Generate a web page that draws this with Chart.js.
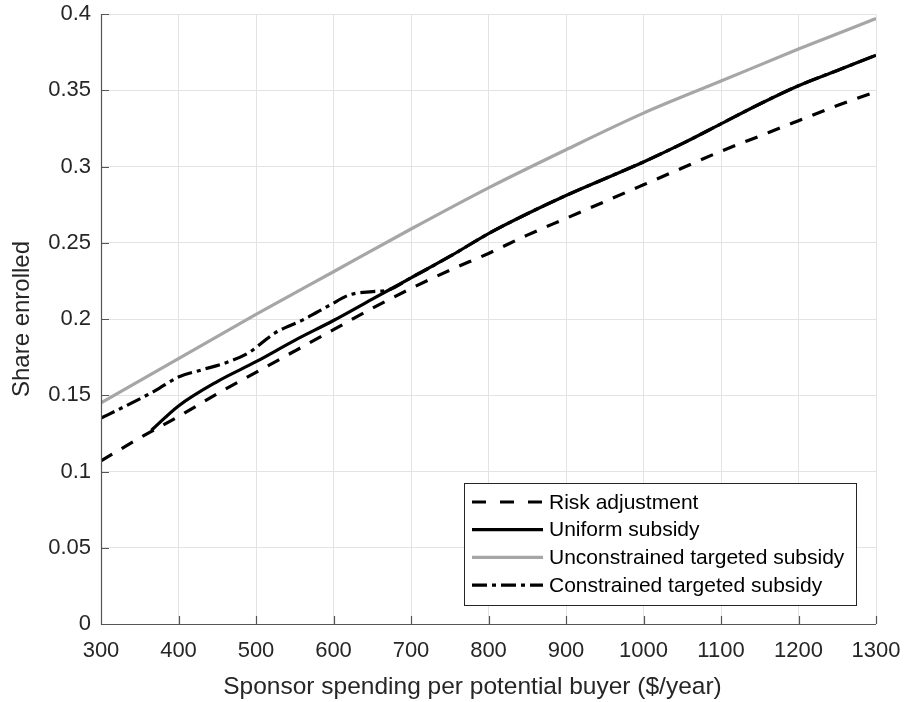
<!DOCTYPE html>
<html>
<head>
<meta charset="utf-8">
<script src="https://cdn.jsdelivr.net/npm/chart.js@4"></script>
<style>
  body { margin: 0; background: #fff; }
  #wrap { width: 905px; height: 702px; }
</style>
</head>
<body>
<div id="wrap"><canvas id="enrollChart" width="905" height="702"></canvas></div>
<script>
// spending levels ($/year) and share enrolled for each policy
const riskX = [300, 350, 400, 450, 500, 550, 600, 650, 700, 750, 800, 850, 900, 950, 1000, 1050, 1100, 1150, 1200, 1250, 1300];
const riskY = [0.107, 0.122, 0.136, 0.151, 0.165, 0.179, 0.193, 0.207, 0.220, 0.232, 0.243, 0.255, 0.266, 0.277, 0.288, 0.299, 0.310, 0.320, 0.330, 0.340, 0.349];

const uniformX = [365, 400, 450, 500, 550, 600, 650, 700, 750, 800, 850, 900, 950, 1000, 1050, 1100, 1150, 1200, 1250, 1300];
const uniformY = [0.127, 0.143, 0.159, 0.172, 0.186, 0.199, 0.213, 0.227, 0.241, 0.256, 0.269, 0.281, 0.292, 0.303, 0.315, 0.328, 0.341, 0.353, 0.363, 0.373];

const unconX = [300, 400, 500, 600, 700, 800, 900, 1000, 1100, 1200, 1300];
const unconY = [0.145, 0.174, 0.203, 0.231, 0.259, 0.286, 0.311, 0.335, 0.356, 0.377, 0.397];

const conX = [300, 330, 370, 400, 430, 465, 490, 525, 560, 595, 620, 650, 670, 700, 750, 800, 850, 900, 950, 1000, 1050, 1100, 1150, 1200, 1250, 1300];
const conY = [0.135, 0.1425, 0.153, 0.162, 0.1666, 0.172, 0.1777, 0.191, 0.1993, 0.209, 0.2157, 0.218, 0.219, 0.227, 0.241, 0.256, 0.269, 0.281, 0.292, 0.303, 0.315, 0.328, 0.341, 0.353, 0.363, 0.373];

const xTicks = [300, 400, 500, 600, 700, 800, 900, 1000, 1100, 1200, 1300];
const yTicks = [0, 0.05, 0.1, 0.15, 0.2, 0.25, 0.3, 0.35, 0.4];

const xTitle = 'Sponsor spending per potential buyer ($/year)';
const FONT = "'Liberation Sans', Arial, sans-serif";

function pairs(xs, ys) {
    return xs.map((x, i) => ({ x: x, y: ys[i] }));
}

// MATLAB-like axis lines with inward ticks, plus the x label
const axesLines = {
    id: 'axesLines',
    afterDatasetsDraw(chart) {
        const { ctx, chartArea: a, scales } = chart;
        ctx.save();
        ctx.strokeStyle = '#555';
        ctx.lineWidth = 1.2;
        ctx.beginPath();
        ctx.moveTo(a.left + 0.5, a.top);
        ctx.lineTo(a.left + 0.5, a.bottom + 0.5);
        ctx.lineTo(a.right, a.bottom + 0.5);
        xTicks.forEach(v => {
            const px = Math.round(scales.x.getPixelForValue(v)) + 0.5;
            ctx.moveTo(px, a.bottom);
            ctx.lineTo(px, a.bottom - 8);
        });
        yTicks.forEach(v => {
            const py = Math.round(scales.y.getPixelForValue(v)) + 0.5;
            ctx.moveTo(a.left, py);
            ctx.lineTo(a.left + 8, py);
        });
        ctx.stroke();

        ctx.fillStyle = '#262626';
        ctx.font = '24.5px ' + FONT;
        ctx.textAlign = 'center';
        ctx.textBaseline = 'middle';
        ctx.fillText(xTitle, 472.5, a.bottom + 63);
        ctx.restore();
    }
};

// legend box in the lower right corner of the plot
const boxLegend = {
    id: 'boxLegend',
    afterDraw(chart) {
        const { ctx, chartArea: a } = chart;
        const w = 392, h = 122;
        const x0 = a.right - 20 - w, y0 = a.bottom - 19 - h;
        ctx.save();
        ctx.fillStyle = '#fff';
        ctx.fillRect(x0, y0, w, h);
        ctx.strokeStyle = '#262626';
        ctx.lineWidth = 1;
        ctx.strokeRect(Math.round(x0) + 0.5, Math.round(y0) + 0.5, w, h);
        ctx.font = '21px ' + FONT;
        ctx.textBaseline = 'middle';
        chart.data.datasets.forEach((ds, i) => {
            const y = y0 + 19 + i * 27.7;
            ctx.beginPath();
            ctx.strokeStyle = ds.borderColor;
            ctx.lineWidth = ds.borderWidth;
            ctx.setLineDash(ds.legendDash || []);
            ctx.moveTo(x0 + 8, y);
            ctx.lineTo(x0 + 79, y);
            ctx.stroke();
            ctx.setLineDash([]);
            ctx.fillStyle = '#000';
            ctx.fillText(ds.label, x0 + 85, y + 1);
        });
        ctx.restore();
    }
};

const data = {
    datasets: [{
        label: 'Risk adjustment',
        data: pairs(riskX, riskY),
        borderColor: '#000',
        borderWidth: 3.2,
        borderDash: [13, 11],
        legendDash: [14, 14],
        order: 4
    }, {
        label: 'Uniform subsidy',
        data: pairs(uniformX, uniformY),
        borderColor: '#000',
        borderWidth: 3.2,
        order: 3
    }, {
        label: 'Unconstrained targeted subsidy',
        data: pairs(unconX, unconY),
        borderColor: '#a6a6a6',
        borderWidth: 3.2,
        order: 2
    }, {
        label: 'Constrained targeted subsidy',
        data: pairs(conX, conY),
        borderColor: '#000',
        borderWidth: 3.2,
        borderDash: [15, 5, 4, 5],
        legendDash: [15, 5, 4, 5],
        order: 1
    }]
};

const config = {
    type: 'line',
    data: data,
    options: {
        responsive: false,
        animation: false,
        layout: { padding: { left: 0, top: 14, right: 29, bottom: 0 } },
        elements: {
            point: { radius: 0 },
            line: { tension: 0.3, cubicInterpolationMode: 'monotone', borderCapStyle: 'butt', fill: false }
        },
        plugins: {
            legend: { display: false },
            tooltip: { enabled: false }
        },
        scales: {
            x: {
                type: 'linear',
                min: 300,
                max: 1300,
                afterFit: s => { s.height = 78; s.paddingLeft = 0; s.paddingRight = 0; },
                afterBuildTicks: s => { s.ticks = xTicks.map(v => ({ value: v })); },
                grid: { color: '#e3e3e3', lineWidth: 1, drawTicks: false },
                border: { display: false },
                ticks: {
                    color: '#262626',
                    font: { family: FONT, size: 22 },
                    padding: 14,
                    maxRotation: 0,
                    callback: v => String(v)
                },
                title: { display: false }
            },
            y: {
                min: 0,
                max: 0.4,
                afterFit: s => { s.width = 101; s.paddingTop = 0; s.paddingBottom = 0; },
                afterBuildTicks: s => { s.ticks = yTicks.map(v => ({ value: v })); },
                grid: { color: '#e3e3e3', lineWidth: 1, drawTicks: false },
                border: { display: false },
                ticks: {
                    color: '#262626',
                    font: { family: FONT, size: 22 },
                    padding: 10,
                    callback: v => String(+v.toFixed(2))
                },
                title: {
                    display: true,
                    text: 'Share enrolled',
                    color: '#262626',
                    font: { family: FONT, size: 24 },
                    padding: { top: 8, bottom: 0 }
                }
            }
        }
    },
    plugins: [axesLines, boxLegend]
};

new Chart(document.getElementById('enrollChart').getContext('2d'), config);
</script>
</body>
</html>
